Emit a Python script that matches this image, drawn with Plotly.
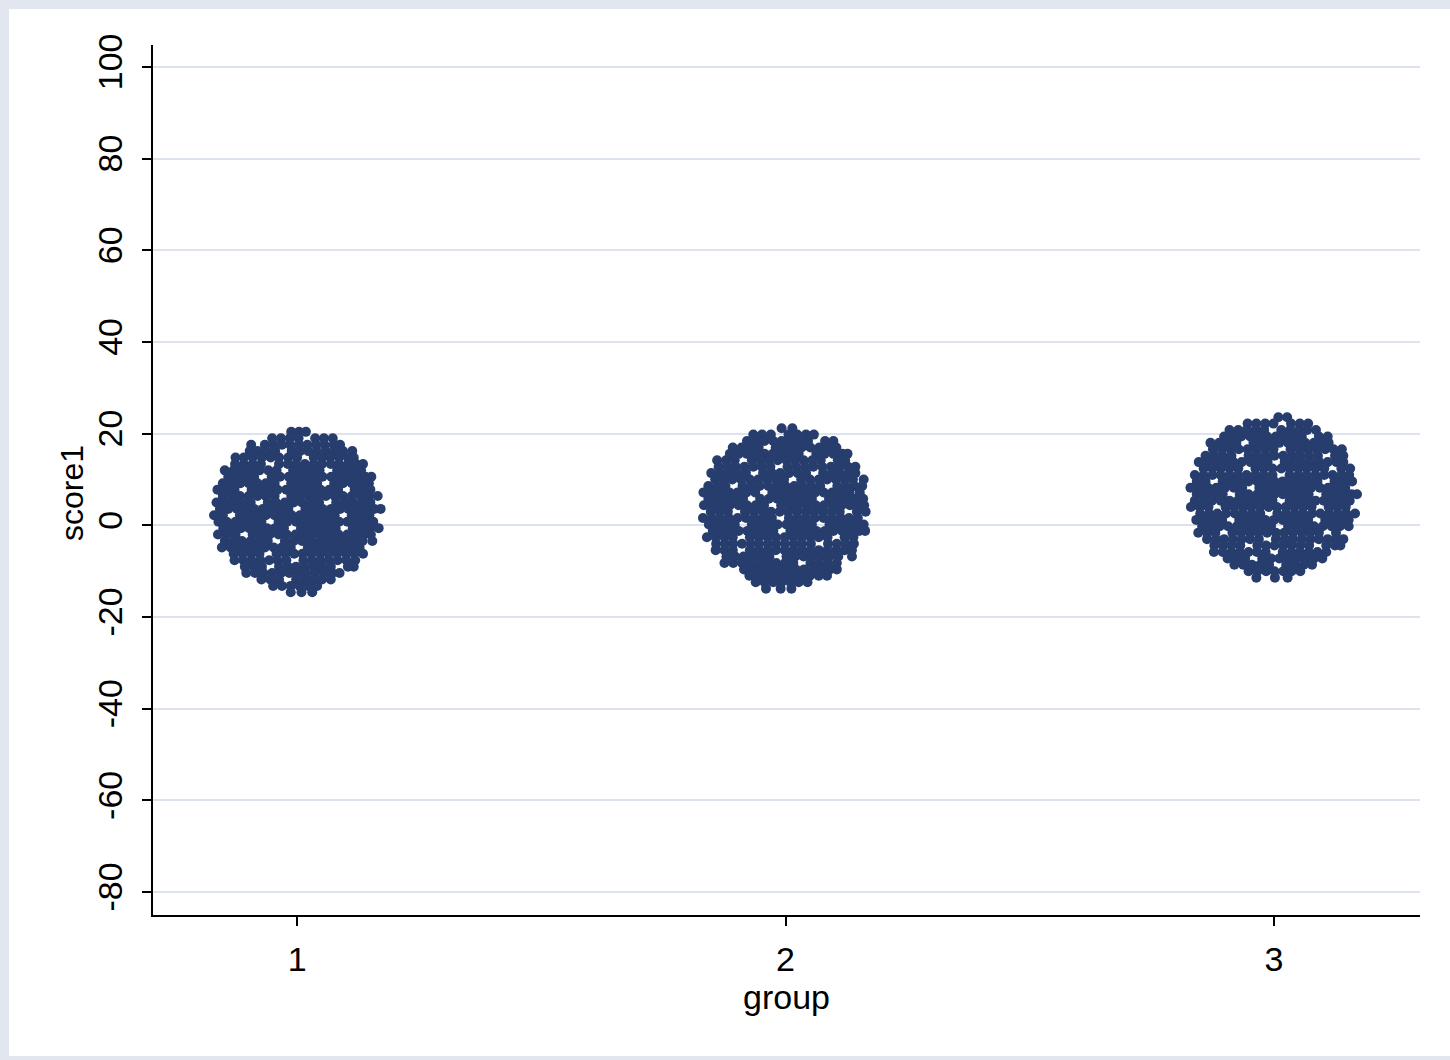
import plotly.graph_objects as go

# Group codes on the x axis
group_levels = [1, 2, 3]
y_ticks = [-80, -60, -40, -20, 0, 20, 40, 60, 80, 100]

# score1 values, one row of markers per value; horizontal jitter per marker in each row,
# plus a small horizontal shift for the whole row
g1_score_rows = [20.4, 19.0, 17.6, 16.2, 14.8, 13.4, 12.0, 10.6, 9.2, 7.8, 6.4, 5.0, 3.6,
                 2.2, 0.8, -0.6, -2.0, -3.4, -4.8, -6.2, -7.6, -9.0, -10.4, -11.8, -13.2, -14.6]
g1_row_shift = [0.000, 0.007, -0.004, 0.009, -0.006, 0.003, -0.009, 0.005, 0.000, -0.007, 0.008, -0.003, 0.006,
                -0.008, 0.002, 0.009, -0.005, 0.004, -0.009, 0.007, -0.002, 0.006, -0.007, 0.003, -0.004, 0.005]
g1_jitter_rows = [
    [-0.012, 0.004, 0.018],
    [-0.058, -0.040, -0.022, -0.004, 0.030, 0.048, 0.066],
    [-0.090, -0.062, -0.044, -0.027, -0.010, 0.008, 0.025, 0.043, 0.060, 0.079, 0.092],
    [-0.106, -0.090, -0.072, -0.054, -0.020, -0.003, 0.014, 0.031, 0.050, 0.068, 0.085, 0.104],
    [-0.120, -0.103, -0.085, -0.066, -0.048, -0.031, -0.012, 0.006, 0.040, 0.057, 0.074, 0.092, 0.110, 0.122],
    [-0.130, -0.112, -0.094, -0.077, -0.040, -0.022, -0.005, 0.013, 0.031, 0.048, 0.066, 0.083, 0.101, 0.118, 0.132],
    [-0.139, -0.121, -0.104, -0.086, -0.068, -0.050, -0.033, 0.001, 0.019, 0.037, 0.055, 0.091, 0.108, 0.126, 0.140],
    [-0.146, -0.128, -0.111, -0.093, -0.057, -0.040, -0.022, -0.005, 0.012, 0.030, 0.047, 0.065, 0.083, 0.100, 0.118, 0.135, 0.147],
    [-0.152, -0.134, -0.116, -0.099, -0.081, -0.064, -0.046, -0.012, 0.006, 0.024, 0.041, 0.076, 0.094, 0.112, 0.129, 0.147],
    [-0.156, -0.139, -0.121, -0.086, -0.068, -0.050, -0.033, -0.015, 0.002, 0.020, 0.038, 0.055, 0.073, 0.091, 0.125, 0.143, 0.157],
    [-0.160, -0.142, -0.125, -0.107, -0.089, -0.072, -0.054, -0.020, -0.002, 0.016, 0.033, 0.051, 0.069, 0.086, 0.104, 0.122, 0.139, 0.157],
    [-0.162, -0.145, -0.127, -0.110, -0.092, -0.057, -0.040, -0.022, -0.004, 0.013, 0.031, 0.048, 0.083, 0.101, 0.118, 0.136, 0.153],
    [-0.164, -0.147, -0.129, -0.111, -0.094, -0.076, -0.059, -0.041, -0.024, 0.011, 0.029, 0.046, 0.064, 0.082, 0.099, 0.117, 0.135, 0.152, 0.165],
    [-0.162, -0.144, -0.109, -0.091, -0.074, -0.056, -0.038, -0.021, -0.003, 0.014, 0.032, 0.050, 0.067, 0.085, 0.120, 0.138, 0.156],
    [-0.163, -0.146, -0.128, -0.110, -0.093, -0.075, -0.040, -0.022, -0.004, 0.013, 0.031, 0.049, 0.066, 0.084, 0.101, 0.119, 0.137, 0.154],
    [-0.160, -0.142, -0.124, -0.107, -0.089, -0.071, -0.054, -0.036, -0.001, 0.017, 0.034, 0.052, 0.070, 0.105, 0.123, 0.140, 0.158],
    [-0.157, -0.139, -0.121, -0.086, -0.068, -0.051, -0.033, -0.016, 0.002, 0.020, 0.037, 0.055, 0.073, 0.090, 0.108, 0.126, 0.143, 0.156],
    [-0.152, -0.134, -0.117, -0.099, -0.081, -0.064, -0.029, -0.011, 0.006, 0.024, 0.042, 0.059, 0.077, 0.094, 0.112, 0.130, 0.150],
    [-0.145, -0.127, -0.110, -0.092, -0.074, -0.057, -0.039, -0.022, -0.004, 0.031, 0.049, 0.067, 0.084, 0.102, 0.119, 0.137],
    [-0.137, -0.119, -0.101, -0.084, -0.049, -0.031, -0.013, 0.004, 0.022, 0.040, 0.057, 0.075, 0.093, 0.110, 0.128],
    [-0.126, -0.108, -0.091, -0.073, -0.055, -0.038, -0.020, 0.015, 0.033, 0.050, 0.068, 0.085, 0.103, 0.121],
    [-0.113, -0.095, -0.078, -0.043, -0.025, -0.008, 0.010, 0.028, 0.045, 0.063, 0.098, 0.110],
    [-0.097, -0.079, -0.062, -0.044, -0.026, -0.009, 0.009, 0.026, 0.044, 0.062, 0.079, 0.094],
    [-0.076, -0.058, -0.040, -0.005, 0.013, 0.030, 0.048, 0.066],
    [-0.045, -0.027, -0.009, 0.009, 0.027, 0.045],
    [-0.018, 0.004, 0.026],
]

g2_score_rows = [21.2, 19.8, 18.4, 17.0, 15.6, 14.2, 12.8, 11.4, 10.0, 8.6, 7.2, 5.8, 4.4,
                 3.0, 1.6, 0.2, -1.2, -2.6, -4.0, -5.4, -6.8, -8.2, -9.6, -11.0, -12.4, -13.8]
g2_row_shift = [0.004, -0.006, 0.009, -0.002, 0.006, -0.009, 0.003, -0.005, 0.008, -0.001, -0.008, 0.005, -0.003,
                0.009, -0.006, 0.002, 0.007, -0.009, 0.004, -0.004, 0.008, -0.007, 0.001, 0.006, -0.005, 0.000]
g2_jitter_rows = [
    [-0.012, 0.010],
    [-0.060, -0.042, -0.024, 0.012, 0.030, 0.048, 0.064],
    [-0.088, -0.070, -0.052, -0.034, -0.017, 0.001, 0.019, 0.037, 0.072, 0.089],
    [-0.106, -0.088, -0.071, -0.053, -0.018, 0.000, 0.018, 0.035, 0.053, 0.071, 0.088, 0.106],
    [-0.120, -0.102, -0.085, -0.067, -0.049, -0.032, -0.014, 0.004, 0.021, 0.057, 0.074, 0.092, 0.110, 0.121],
    [-0.131, -0.113, -0.095, -0.060, -0.042, -0.025, -0.007, 0.011, 0.028, 0.046, 0.064, 0.081, 0.116, 0.131],
    [-0.140, -0.122, -0.105, -0.087, -0.069, -0.052, -0.034, 0.001, 0.019, 0.037, 0.054, 0.072, 0.090, 0.107, 0.125, 0.140],
    [-0.147, -0.129, -0.111, -0.094, -0.076, -0.041, -0.023, -0.006, 0.012, 0.030, 0.047, 0.082, 0.100, 0.117, 0.135, 0.148],
    [-0.152, -0.134, -0.117, -0.099, -0.081, -0.064, -0.046, -0.028, -0.011, 0.024, 0.042, 0.060, 0.077, 0.095, 0.113, 0.130, 0.152],
    [-0.157, -0.139, -0.122, -0.087, -0.069, -0.052, -0.034, -0.016, 0.001, 0.019, 0.036, 0.054, 0.072, 0.107, 0.124, 0.142, 0.158],
    [-0.160, -0.143, -0.125, -0.107, -0.090, -0.072, -0.054, -0.019, -0.002, 0.016, 0.034, 0.051, 0.069, 0.086, 0.104, 0.122, 0.139, 0.160],
    [-0.163, -0.145, -0.127, -0.110, -0.092, -0.057, -0.039, -0.022, -0.004, 0.013, 0.031, 0.049, 0.084, 0.101, 0.119, 0.137, 0.154],
    [-0.164, -0.146, -0.129, -0.111, -0.093, -0.076, -0.058, -0.041, -0.006, 0.012, 0.029, 0.047, 0.065, 0.082, 0.100, 0.118, 0.135, 0.153, 0.164],
    [-0.162, -0.144, -0.127, -0.092, -0.074, -0.056, -0.039, -0.021, -0.004, 0.014, 0.032, 0.049, 0.067, 0.085, 0.102, 0.137, 0.155],
    [-0.163, -0.145, -0.128, -0.110, -0.092, -0.075, -0.057, -0.039, -0.022, 0.013, 0.031, 0.048, 0.066, 0.084, 0.101, 0.119, 0.136, 0.154],
    [-0.159, -0.141, -0.124, -0.106, -0.071, -0.053, -0.036, -0.018, 0.000, 0.017, 0.035, 0.052, 0.088, 0.105, 0.123, 0.140, 0.158],
    [-0.156, -0.138, -0.121, -0.103, -0.085, -0.068, -0.050, -0.032, 0.003, 0.021, 0.038, 0.056, 0.074, 0.091, 0.109, 0.126, 0.144, 0.156],
    [-0.152, -0.134, -0.116, -0.099, -0.064, -0.046, -0.028, -0.011, 0.007, 0.025, 0.042, 0.060, 0.077, 0.095, 0.130, 0.148],
    [-0.146, -0.128, -0.111, -0.093, -0.075, -0.058, -0.040, -0.023, -0.005, 0.013, 0.030, 0.048, 0.083, 0.101, 0.119, 0.136],
    [-0.139, -0.121, -0.104, -0.069, -0.051, -0.033, -0.016, 0.002, 0.020, 0.037, 0.055, 0.072, 0.090, 0.108, 0.125, 0.140],
    [-0.129, -0.111, -0.094, -0.076, -0.058, -0.041, -0.006, 0.012, 0.029, 0.047, 0.065, 0.082, 0.100, 0.128],
    [-0.118, -0.100, -0.082, -0.065, -0.047, -0.030, -0.012, 0.006, 0.023, 0.058, 0.076, 0.094, 0.112],
    [-0.086, -0.068, -0.051, -0.033, -0.015, 0.002, 0.020, 0.037, 0.055, 0.073, 0.090, 0.104],
    [-0.080, -0.062, -0.044, -0.027, -0.009, 0.009, 0.026, 0.044, 0.062, 0.079],
    [-0.056, -0.038, -0.020, -0.003, 0.015, 0.032, 0.050],
    [-0.040, -0.010, 0.012],
]

g3_score_rows = [23.6, 22.2, 20.8, 19.4, 18.0, 16.6, 15.2, 13.8, 12.4, 11.0, 9.6, 8.2, 6.8,
                 5.4, 4.0, 2.6, 1.2, -0.2, -1.6, -3.0, -4.4, -5.8, -7.2, -8.6, -10.0, -11.4]
g3_row_shift = [-0.005, 0.008, -0.002, 0.005, -0.009, 0.007, 0.001, -0.006, 0.009, -0.004, 0.003, -0.008, 0.006,
                0.000, -0.007, 0.008, -0.003, 0.005, -0.009, 0.002, 0.007, -0.005, 0.009, -0.001, 0.004, -0.006]
g3_jitter_rows = [
    [0.014, 0.032],
    [-0.062, -0.044, -0.026, -0.009, 0.027, 0.045, 0.062],
    [-0.089, -0.071, -0.054, -0.036, -0.018, 0.017, 0.035, 0.053, 0.070, 0.088],
    [-0.107, -0.089, -0.072, -0.054, -0.036, -0.019, -0.001, 0.016, 0.034, 0.052, 0.087, 0.105],
    [-0.121, -0.103, -0.086, -0.068, -0.033, -0.015, 0.002, 0.020, 0.038, 0.055, 0.073, 0.091, 0.108, 0.121],
    [-0.132, -0.114, -0.096, -0.079, -0.061, -0.044, -0.026, -0.008, 0.027, 0.045, 0.062, 0.080, 0.098, 0.115, 0.132],
    [-0.141, -0.123, -0.106, -0.088, -0.053, -0.035, -0.017, 0.000, 0.018, 0.036, 0.053, 0.071, 0.089, 0.124, 0.141],
    [-0.148, -0.130, -0.113, -0.095, -0.077, -0.060, -0.042, -0.025, -0.007, 0.028, 0.046, 0.063, 0.081, 0.099, 0.116, 0.134, 0.148],
    [-0.153, -0.135, -0.118, -0.100, -0.082, -0.047, -0.030, -0.012, 0.006, 0.023, 0.041, 0.058, 0.076, 0.094, 0.129, 0.147],
    [-0.158, -0.140, -0.122, -0.105, -0.087, -0.070, -0.052, -0.034, -0.017, 0.001, 0.036, 0.054, 0.071, 0.089, 0.107, 0.124, 0.142, 0.158],
    [-0.161, -0.143, -0.108, -0.090, -0.073, -0.055, -0.037, -0.020, -0.002, 0.015, 0.033, 0.051, 0.068, 0.086, 0.121, 0.139, 0.157],
    [-0.163, -0.145, -0.127, -0.110, -0.092, -0.074, -0.057, -0.022, -0.004, 0.013, 0.031, 0.049, 0.066, 0.084, 0.102, 0.119, 0.137, 0.154],
    [-0.164, -0.146, -0.129, -0.111, -0.076, -0.058, -0.040, -0.023, -0.005, 0.012, 0.030, 0.048, 0.065, 0.101, 0.118, 0.136, 0.153, 0.164],
    [-0.162, -0.144, -0.127, -0.109, -0.091, -0.074, -0.056, -0.039, -0.021, -0.003, 0.032, 0.049, 0.067, 0.085, 0.102, 0.120, 0.137, 0.155],
    [-0.163, -0.145, -0.127, -0.092, -0.075, -0.057, -0.040, -0.022, -0.004, 0.013, 0.031, 0.048, 0.066, 0.084, 0.119, 0.136, 0.154],
    [-0.159, -0.141, -0.124, -0.106, -0.088, -0.071, -0.053, -0.036, -0.001, 0.017, 0.035, 0.052, 0.070, 0.087, 0.105, 0.123, 0.140, 0.158],
    [-0.156, -0.138, -0.121, -0.103, -0.068, -0.050, -0.032, -0.015, 0.003, 0.021, 0.038, 0.056, 0.073, 0.108, 0.126, 0.144, 0.156],
    [-0.152, -0.134, -0.116, -0.099, -0.081, -0.064, -0.046, -0.028, -0.011, 0.024, 0.042, 0.060, 0.077, 0.095, 0.113, 0.130, 0.148],
    [-0.146, -0.128, -0.111, -0.076, -0.058, -0.040, -0.023, -0.005, 0.013, 0.030, 0.048, 0.066, 0.083, 0.101, 0.136],
    [-0.139, -0.121, -0.104, -0.086, -0.068, -0.051, -0.033, 0.002, 0.020, 0.037, 0.055, 0.073, 0.090, 0.108, 0.125, 0.140],
    [-0.129, -0.111, -0.094, -0.076, -0.041, -0.023, -0.006, 0.012, 0.029, 0.047, 0.065, 0.100, 0.118, 0.129],
    [-0.118, -0.100, -0.082, -0.065, -0.047, -0.030, -0.012, 0.023, 0.041, 0.058, 0.076, 0.094, 0.112],
    [-0.104, -0.086, -0.068, -0.033, -0.015, 0.002, 0.020, 0.037, 0.055, 0.073, 0.090],
    [-0.080, -0.062, -0.044, -0.027, -0.009, 0.026, 0.044, 0.062, 0.079],
    [-0.056, -0.038, -0.020, -0.003, 0.015, 0.032, 0.050],
    [-0.030, 0.008, 0.034],
]

MARKER_COLOR = "#263d6d"
OUTER_BG = "#e1e6ef"
GRID_COLOR = "#dde3ec"
FONT = "Liberation Sans, Arial, sans-serif"
TEXT_SIZE = 34

xs, ys = [], []
for g, score_rows, row_shift, jitter_rows in [
    (group_levels[0], g1_score_rows, g1_row_shift, g1_jitter_rows),
    (group_levels[1], g2_score_rows, g2_row_shift, g2_jitter_rows),
    (group_levels[2], g3_score_rows, g3_row_shift, g3_jitter_rows),
]:
    for s, shift, jitters in zip(score_rows, row_shift, jitter_rows):
        for j in jitters:
            xs.append(g + shift + j)
            ys.append(s)

fig = go.Figure()
fig.add_trace(go.Scatter(
    x=xs, y=ys, mode="markers",
    marker=dict(size=10, color=MARKER_COLOR, line=dict(width=0)),
    showlegend=False, hoverinfo="skip",
))

# Plot area in pixels: left 153, right 1420, top 45, bottom 915
W, H = 1450, 1060
L, R, T, B = 153, 30, 45, 145
pw, ph = W - L - R, H - T - B


def px_to_paper_x(px):
    return (px - L) / pw


def px_to_paper_y(py):
    return (H - B - py) / ph


# White inner graph region over the light outer frame
fig.add_shape(
    type="rect", xref="paper", yref="paper", layer="below",
    x0=px_to_paper_x(9), x1=px_to_paper_x(1452),
    y0=px_to_paper_y(1056), y1=px_to_paper_y(9),
    fillcolor="white", line=dict(width=0),
)

# y-axis title, placed as rotated text left of the tick labels
fig.add_annotation(
    text="score1", textangle=-90, showarrow=False,
    xref="paper", yref="paper",
    x=px_to_paper_x(72), y=px_to_paper_y(493),
    xanchor="center", yanchor="middle",
    font=dict(family=FONT, size=32, color="black"),
)

fig.update_layout(
    width=W, height=H,
    margin=dict(l=L, r=R, t=T, b=B, pad=0),
    paper_bgcolor=OUTER_BG,
    plot_bgcolor="white",
    font=dict(family=FONT, size=TEXT_SIZE, color="black"),
    showlegend=False,
)

fig.update_xaxes(
    range=[0.705, 3.299],
    tickmode="array", tickvals=group_levels, ticktext=[str(v) for v in group_levels],
    ticks="outside", ticklen=9, tickwidth=2, tickcolor="black",
    showline=True, linecolor="black", linewidth=2, mirror=False,
    showgrid=False, zeroline=False,
    tickfont=dict(size=TEXT_SIZE),
    ticklabelstandoff=4,
    title=dict(text="group", font=dict(size=TEXT_SIZE), standoff=2),
)

fig.update_yaxes(
    range=[-85.0, 104.8],
    tickmode="array", tickvals=y_ticks, ticktext=[str(v) for v in y_ticks],
    tickangle=-90,
    ticks="outside", ticklen=9, tickwidth=2, tickcolor="black",
    showline=True, linecolor="black", linewidth=2, mirror=False,
    showgrid=True, gridcolor=GRID_COLOR, gridwidth=2, zeroline=False,
    tickfont=dict(size=TEXT_SIZE),
    ticklabelstandoff=6,
)

fig.write_html("out.html")
